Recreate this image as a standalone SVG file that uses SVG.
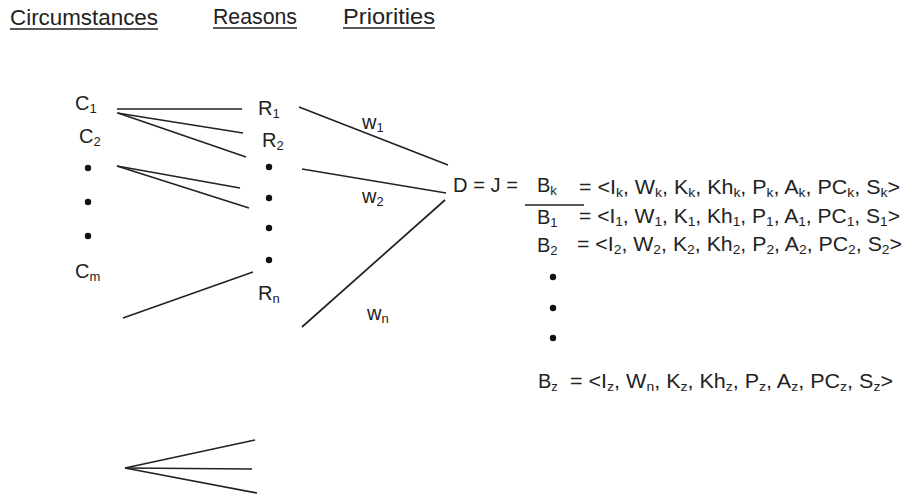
<svg xmlns="http://www.w3.org/2000/svg" width="907" height="497" viewBox="0 0 907 497">
<style>
text{font-family:"Liberation Sans",Arial,sans-serif;fill:#222;font-size:20px}
.h{font-size:22px}
.s{font-size:13px;baseline-shift:-3px}
line{stroke:#222;stroke-width:1.7;fill:none}
.dot{fill:#111}
</style>
<rect width="907" height="497" fill="#fff"/>
<g id="headers">
<text class="h" x="10" y="25" textLength="148" lengthAdjust="spacingAndGlyphs">Circumstances</text>
<line x1="10" y1="29" x2="158" y2="29"/>
<text class="h" x="213" y="24" textLength="84" lengthAdjust="spacingAndGlyphs">Reasons</text>
<line x1="213" y1="28" x2="297" y2="28"/>
<text class="h" x="343" y="24" textLength="92" lengthAdjust="spacingAndGlyphs">Priorities</text>
<line x1="343" y1="28" x2="435" y2="28"/>
</g>
<g id="circumstances">
<text x="75" y="110">C<tspan class="s">1</tspan></text>
<text x="79" y="143">C<tspan class="s">2</tspan></text>
<circle class="dot" cx="88" cy="168" r="3.2"/>
<circle class="dot" cx="88" cy="202" r="3.2"/>
<circle class="dot" cx="88" cy="236" r="3.2"/>
<text x="75" y="278">C<tspan class="s">m</tspan></text>
</g>
<g id="reasons">
<text x="258" y="115">R<tspan class="s">1</tspan></text>
<text x="262" y="147">R<tspan class="s">2</tspan></text>
<circle class="dot" cx="269" cy="167" r="3.2"/>
<circle class="dot" cx="269" cy="198" r="3.2"/>
<circle class="dot" cx="269" cy="228" r="3.2"/>
<circle class="dot" cx="269" cy="260" r="3.2"/>
<text x="258" y="300">R<tspan class="s">n</tspan></text>
</g>
<g id="weights">
<text x="362" y="129">w<tspan class="s">1</tspan></text>
<text x="362" y="203">w<tspan class="s">2</tspan></text>
<text x="367" y="320">w<tspan class="s">n</tspan></text>
</g>
<g id="decision">
<text x="453" y="192" textLength="65" lengthAdjust="spacingAndGlyphs">D = J =</text>
<text x="537" y="192">B<tspan class="s">k</tspan></text>
<line x1="525" y1="205" x2="584" y2="205"/>
<text x="537" y="224">B<tspan class="s">1</tspan></text>
<text x="537" y="252">B<tspan class="s">2</tspan></text>
<circle class="dot" cx="553" cy="277" r="3.2"/>
<circle class="dot" cx="553" cy="308" r="3.2"/>
<circle class="dot" cx="553" cy="338" r="3.2"/>
<text x="538" y="388">B<tspan class="s">z</tspan></text>
</g>
<g id="tuples">
<text x="579" y="194" textLength="321" lengthAdjust="spacingAndGlyphs">= &lt;I<tspan class="s">k</tspan>, W<tspan class="s">k</tspan>, K<tspan class="s">k</tspan>, Kh<tspan class="s">k</tspan>, P<tspan class="s">k</tspan>, A<tspan class="s">k</tspan>, PC<tspan class="s">k</tspan>, S<tspan class="s">k</tspan>&gt;</text>
<text x="579" y="223" textLength="321" lengthAdjust="spacingAndGlyphs">= &lt;I<tspan class="s">1</tspan>, W<tspan class="s">1</tspan>, K<tspan class="s">1</tspan>, Kh<tspan class="s">1</tspan>, P<tspan class="s">1</tspan>, A<tspan class="s">1</tspan>, PC<tspan class="s">1</tspan>, S<tspan class="s">1</tspan>&gt;</text>
<text x="577" y="251" textLength="325" lengthAdjust="spacingAndGlyphs">= &lt;I<tspan class="s">2</tspan>, W<tspan class="s">2</tspan>, K<tspan class="s">2</tspan>, Kh<tspan class="s">2</tspan>, P<tspan class="s">2</tspan>, A<tspan class="s">2</tspan>, PC<tspan class="s">2</tspan>, S<tspan class="s">2</tspan>&gt;</text>
<text x="570" y="388" textLength="323" lengthAdjust="spacingAndGlyphs">= &lt;I<tspan class="s">z</tspan>, W<tspan class="s">n</tspan>, K<tspan class="s">z</tspan>, Kh<tspan class="s">z</tspan>, P<tspan class="s">z</tspan>, A<tspan class="s">z</tspan>, PC<tspan class="s">z</tspan>, S<tspan class="s">z</tspan>&gt;</text>
</g>
<g id="connectors">
<line x1="117" y1="109" x2="242" y2="109"/>
<line x1="117" y1="113" x2="243" y2="133"/>
<line x1="118" y1="113" x2="246" y2="157"/>
<line x1="117" y1="166" x2="240" y2="188"/>
<line x1="117" y1="166" x2="249" y2="208"/>
<line x1="123" y1="318" x2="253" y2="272"/>
<line x1="299" y1="107" x2="448" y2="165"/>
<line x1="302" y1="169" x2="446" y2="193"/>
<line x1="302" y1="327" x2="445" y2="200"/>
<line x1="125" y1="468" x2="255" y2="440"/>
<line x1="125" y1="468" x2="252" y2="469"/>
<line x1="125" y1="468" x2="257" y2="493"/>
</g>
</svg>
